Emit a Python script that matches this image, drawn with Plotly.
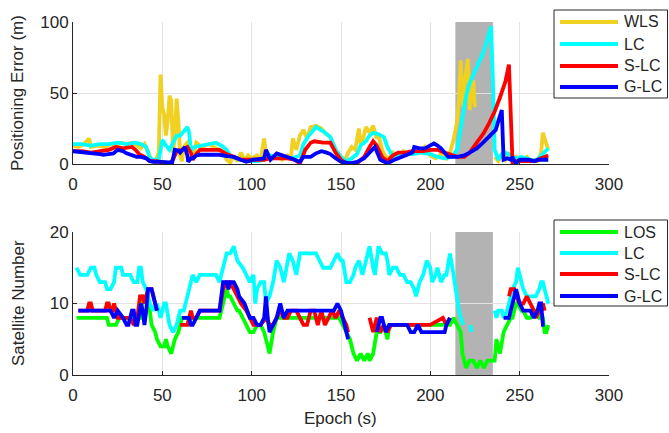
import plotly.graph_objects as go

# ---------------- Data ----------------
# Top panel: positioning error (m)
wls_x = [0,3,6,9,10,14,18,21,24,27,30,33,36,38,40,42,44,46,48,49,50,51,52,53,54,55,56,57,58,59,60,61,62,64,66,67,68,69,72,76,80,84,86,88,90,92,94,96,98,100,103,105,107,108,111,114,117,120,122,123,125,127,129,131,133,136,139,141,144,147,150,152,154,156,158,160,161,162,164,166,168,170,171,173,175,177,179,182,185,188,191,194,197,200,203,206,209,211,213,215,216,217,218,218.5,219,220,221,222,223,224,225,226,
         236,238,240,242,244,246,248,250,252,254,256,258,260,262,263,264,265,266]
wls_y = [13,12,14,18,12,13,12,14,13,15,14,15,13,11,14,9,3,1,8,63,40,35,20,30,48,45,8,20,46,30,5,2,12,15,12,3,10,15,12,14,11,9,3,1,6,2,8,3,6,4,6,3,18,6,4,7,3,6,4,18,10,20,24,18,26,27,25,22,19,10,5,2,8,12,10,25,14,16,26,22,27,18,20,10,5,4,8,6,9,7,10,8,12,6,4,7,4,8,17,30,45,73,45,40,55,66,74,38,50,59,40,None,
         5,2,6,3,8,3,5,2,3,5,2,3,2,8,22,18,12,10]

lc_x = [0,5,10,15,20,25,30,35,38,41,43,45,48,50,52,54,56,58,60,62,64,65,66,68,72,76,80,83,86,88,90,93,97,100,104,107,108,110,114,118,122,125,127,129,132,136,140,144,147,150,153,156,159,161,164,166,168,171,174,176,179,182,185,190,195,200,204,208,212,215,217,218.5,220,222,225,229.5,232,234,235,236,238,240,242,245,248,251,254,257,259,262,265,266]
lc_y = [14,14,13,14,14,15,14,15,14,12,4,3,3,17,13,10,15,20,20,23,26,22,10,12,13,14,15,13,10,6,5,3,2,2,2,3,9,6,5,5,4,5,6,14,20,26,23,19,10,5,2,4,7,13,16,20,22,21,19,12,5,6,7,7,8,7,5,4,5,10,25,38,48,57,65,78,88,97,60,10,3,7,8,6,4,5,4,3,2,6,10,11]

slc_x = [0,5,10,15,20,24,28,33,35,37,40,43,47,50,54,56,58,61,64,66,67,69,71,76,82,86,90,94,99,104,107,110,115,120,124,127,130,133,135,140,144,147,150,153,159,163,166,168,170,171,173,176,179,182,186,190,196,200,204,208,211,213,215,219,222,226,230,233,236,239,242,244,246,248,252,256,259,262,265,266]
slc_y = [9,9,8,9,10,12,11,12,10,7,5,2,2,1,0.5,3,9,10,12,8,3,7,10,10,10,7,5,3,3,3,3,4,4,4,3,0.5,10,15,16,15,15,8,3,0.5,0.5,5,12,16,13,10,5,2,6,8,8,9,9,10,10,8,7,6,5,5,8,15,22,29,37,47,58,70,1,2,2,2,2,4,6,6]

glc_x = [0,5,10,15,17,20,22.6,25,28,30,33,35.6,38,41,43,45,50,54,55.5,57,59,60,62.7,64,64.5,66,67,69,71,76,82,86,90,94,97,101,105,107,108,110.5,114,118,122,125,127,129,133,136,139,142,144,147,150,155,159,163,166,169,172,174,176,179,182,185,188,190,191,194,197,200,202,204,206,208,210,215,219,222,226,229.5,233,236.6,238,240,241,243,245,246,247,248,250,252,255,258,260,263,265,266]
glc_y = [9,8.5,8,7,6.5,7,7.5,10,9,7.5,6,5,5,4,2,1.6,1.5,1.6,1,10,9.5,8,12,6,1.6,4,4,6,6.5,6.5,6.5,5.5,5,3,1.6,3,4,4,10,3,7.5,6,4,2.5,1.6,5,5,7.5,9,8,7,4,1.6,0.5,1.5,4,8,12,3,1.5,0.5,2.5,4,6,7.5,8,12,11,11,13,14.5,13,11,8,5,5,6,8,11,15,19,24,30,38,3,4,3,5,2,0.5,3,3,3,2,3,3,3,3]

# Bottom panel: satellite number
los_x = [2,10,19,20,24,26,30,36,38,39,41,43,44,46,47,49,51,52,53,55,56,57,59,60,61,65,70,75,80,82,84,86,87,88,90,92,93,95,97,99,101,103,105,107,109,110,112,114,117,121,125,130,140,145,149,151,153,155,157,159,161,163,165,166,168,170,172,174,176,177,179,181,190,200,211,213,215,217,218,219,220,222,224,226,228,230,232,234,236,237,239,241,243,245,246,248,249,251,252,254,256,258,259,261,263,264,265,266]
los_y = [8,8,8,7,7,8,8,8,8,11,11,9,7,6,5,4,4,5,4,3,4,5,6,7,8,8,8,8,8,8,10,12,11,11,10,9,9,8,7,6,6,7,7,6,4,3,6,8,8,8,8,8,8,8,8,7,6,5,3,2,3,2,3,2,3,6,6,7,5,7,7,7,7,7,7,8,7,6,3,2,1,2,2,1,2,1,2,2,2,5,3,6,7,8,8,10,10,9,9,8,8,9,9,8,8,6,6,7]

lcn_x = [2,4,8,10,12,13,15,18,19,21,23,24,27,28,32,34,36,37,38,39,41,43,45,47,49,51,52,54,56,58,60,62,64,66,67,69,71,75,80,82,84,86,88,90,91,92,95,97,99,101,102,103,105,107,108,110,112,114,116,118,120,121,123,125,127,131,136,138,140,144,146,148,150,151,153,155,157,158,160,162,164,166,168,169,171,173,175,176,177,179,181,183,185,187,189,191,192,194,196,198,200,201,203,204,206,208,209,211,213,214,215,216,217,218.5,219,
         222.5,223,223.5,
         236,237,238,240,241,243,244,246,248,249,250,251,252,254,256,258,259,261,262,263,264,265,266]
lcn_y = [15,14,14,15,15,14,13,13,12,12,13,15,15,14,14,13,13,15,15,13,12,10,9,10,8,10,10,7,6,7,9,9,11,13,14,13,14,14,14,13,15,17,17,18,17,16,15,14,13,14,10,12,13,13,10,11,13,16,15,13,16,17,16,14,17,17,17,16,15,15,16,17,16,16,13,13,14,15,16,14,16,18,15,14,18,17,17,16,14,15,15,14,14,13,13,12,11,13,14,16,15,13,14,15,13,14,14,17,14,12,11,9,8,7,None,
         7,6,None,
         9,8,9,9,8,9,10,12,13,15,14,13,12,11,11,11,11,12,13,13,12,11,10]

slcn_x = [3,8,9,10,11,18,19,20,21,22,23,24,25,30,32,34,36,37.5,39,40,41,42,44,45,47,48,
          60,63,64,66,67,69,71,75,82,84,86,88,90,92,94,97,99,101,103,105,108,110,112,114,116,118,120,122,125,127,129,131,133,135,137,139,141,143,145,147,149,151,153,154,155,
          166,167,168,170,171,172,174,176,178,180,190,200,207,209,211,212,
          244,245,247,248,250,252,254,256,258,259,261,263,264]
slcn_y = [9,9,10,10,9,9,10,10,9,9,10,9,8,8,8,7,8,11,11,10,11,12,12,11,9,None,
          7,7,7,9,8,8,9,9,9,12,13,13,12,11,10,9,8,7,7,7,8,7,7,8,9,8,8,9,9,8,7,7,9,9,7,9,7,8,9,8,9,8,7,6,None,
          8,7,6,8,7,6,7,6,7,7,7,7,8,7,8,None,
          11,12,12,11,10,10,11,10,9,8,9,10,9]

glcn_x = [3,10,15,21,23,25,28,30,31,33,34,35,36,38,39,40,41,42,44,45,47,48,
          61,64,65,66,67,69,71,75,82,84,86,87,88,90,92,93,96,99,101,103,105,107,108,109,110,112,114,116,118,120,124,130,140,146,148,150,151,153,154,155,
          170,172,173,175,177,180,187,189,191,193,195,200,205,208,209,211,212,
          241,244,246,248,250,252,256,258,260,261,262,263,264]
glcn_y = [9,9,9,9,8,9,8,7,7,9,9,7,7,10,9,7,9,12,12,11,9,None,
          8,8,8,7,7,8,9,9,9,13,13,12,13,13,12,11,10,8,8,7,7,8,11,8,6,7,8,10,8,9,9,9,9,9,10,9,8,6,5,None,
          6,8,8,6,7,7,7,6,6,7,6,6,6,6,7,8,None,
          8,8,10,12,10,9,9,8,9,10,10,7,7]

x_ticks = [0, 50, 100, 150, 200, 250, 300]
y1_ticks = [0, 50, 100]
y2_ticks = [0, 10, 20]
shade_range = [214, 235]
top_names = ["WLS", "LC", "S-LC", "G-LC"]
bottom_names = ["LOS", "LC", "S-LC", "G-LC"]

# ---------------- Styling ----------------
YELLOW = "#F0D020"
CYAN = "#00FFFF"
RED = "#FF0000"
BLUE = "#0000FF"
GREEN = "#00FF00"
LW = 3.8
FONT = "Liberation Sans, Arial, sans-serif"
TXT = "#262626"
W, H = 669, 433

def px(xp):
    return xp / W

def py(yp):
    return 1 - yp / H

fig = go.Figure()

def add(x, y, name, color, xa, ya):
    fig.add_trace(go.Scatter(x=x, y=y, name=name, mode="lines",
                             line=dict(color=color, width=LW),
                             xaxis=xa, yaxis=ya, showlegend=False,
                             connectgaps=False))

top_colors = [YELLOW, CYAN, RED, BLUE]
bottom_colors = [GREEN, CYAN, RED, BLUE]
for (x, y), n, c in zip([(wls_x, wls_y), (lc_x, lc_y), (slc_x, slc_y), (glc_x, glc_y)], top_names, top_colors):
    add(x, y, n, c, "x", "y")
for (x, y), n, c in zip([(los_x, los_y), (lcn_x, lcn_y), (slcn_x, slcn_y), (glcn_x, glcn_y)], bottom_names, bottom_colors):
    add(x, y, n, c, "x2", "y2")

for xr, yr in (("x", "y domain"), ("x2", "y2 domain")):
    fig.add_shape(type="rect", xref=xr, yref=yr,
                  x0=shade_range[0], x1=shade_range[1], y0=0, y1=1,
                  fillcolor="#B3B3B3", line=dict(width=0), layer="below")

# Legends drawn as boxed keys (MATLAB style)
def legend(box_top, box_bottom, names, colors, rows):
    fig.add_shape(type="rect", xref="paper", yref="paper",
                  x0=px(554), x1=px(667.5), y0=py(box_bottom), y1=py(box_top),
                  fillcolor="white", line=dict(color=TXT, width=1), layer="above")
    for n, c, r in zip(names, colors, rows):
        fig.add_shape(type="line", xref="paper", yref="paper",
                      x0=px(560), x1=px(618), y0=py(r), y1=py(r),
                      line=dict(color=c, width=LW), layer="above")
        fig.add_annotation(text=n, xref="paper", yref="paper", x=px(622), y=py(r),
                           xanchor="left", yanchor="middle", showarrow=False,
                           font=dict(family=FONT, size=16, color=TXT))

legend(10, 98, top_names, top_colors, [22, 44, 66, 87])
legend(220, 306, bottom_names, bottom_colors, [232, 253, 274, 296])

# axis titles
fig.add_annotation(text="Positioning Error (m)", xref="paper", yref="paper",
                   x=px(18), y=py(93), textangle=-90, showarrow=False,
                   xanchor="center", yanchor="middle",
                   font=dict(family=FONT, size=17, color=TXT))
fig.add_annotation(text="Satellite Number", xref="paper", yref="paper",
                   x=px(18), y=py(303), textangle=-90, showarrow=False,
                   xanchor="center", yanchor="middle",
                   font=dict(family=FONT, size=17, color=TXT))
fig.add_annotation(text="Epoch (s)", xref="paper", yref="paper",
                   x=px(341), y=py(418), showarrow=False,
                   xanchor="center", yanchor="middle",
                   font=dict(family=FONT, size=17, color=TXT))

xd = [px(73), px(609)]
axis_common = dict(showgrid=True, gridcolor="#E3E3E3", gridwidth=1,
                   showline=True, linecolor=TXT, linewidth=1,
                   ticks="inside", ticklen=4, tickcolor=TXT,
                   tickfont=dict(family=FONT, size=17, color=TXT),
                   zeroline=False)

fig.update_layout(
    width=W, height=H,
    margin=dict(l=0, r=0, t=0, b=0, autoexpand=False),
    paper_bgcolor="white", plot_bgcolor="white",
    font=dict(family=FONT, color=TXT),
    showlegend=False,
    xaxis=dict(domain=xd, range=[0, 300], tickvals=x_ticks, anchor="y",
               ticklabelstandoff=5, **axis_common),
    yaxis=dict(domain=[py(164), py(22)], range=[0, 100], tickvals=y1_ticks, anchor="x", **axis_common),
    xaxis2=dict(domain=xd, range=[0, 300], tickvals=x_ticks, anchor="y2",
                ticklabelstandoff=5, **axis_common),
    yaxis2=dict(domain=[py(375), py(232)], range=[0, 20], tickvals=y2_ticks, anchor="x2", **axis_common),
)

fig.write_html("out.html")
